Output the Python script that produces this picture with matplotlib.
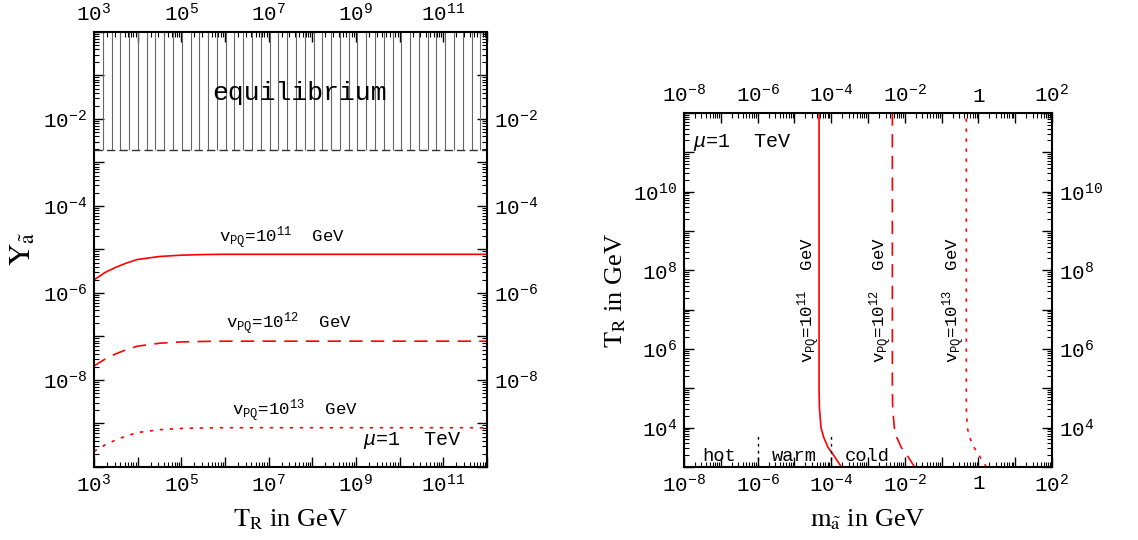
import numpy as np
import matplotlib
matplotlib.use("Agg")
import matplotlib.pyplot as plt
from matplotlib.ticker import LogLocator, FuncFormatter, NullFormatter

plt.rcParams['font.family'] = ['Liberation Mono', 'DejaVu Sans Mono']
plt.rcParams['mathtext.fontset'] = 'custom'
plt.rcParams['mathtext.rm'] = 'Liberation Mono'
plt.rcParams['mathtext.it'] = 'Liberation Mono:italic'
plt.rcParams['mathtext.fallback'] = 'stix'

# ---- left panel: yield vs reheat temperature ----
T_left = [1.0e3, 1.78e3, 3.16e3, 5.62e3, 1.0e4, 3.16e4, 1.0e5, 3.16e5, 1.0e6, 1.0e8, 1.0e10, 1.0e12]
Y_v11 = [2.0e-6, 2.95e-6, 3.9e-6, 4.9e-6, 5.9e-6, 6.9e-6, 7.4e-6, 7.65e-6, 7.75e-6, 7.75e-6, 7.75e-6, 7.75e-6]
Y_v12 = [2.1e-8, 3.0e-8, 4.0e-8, 5.0e-8, 6.0e-8, 7.0e-8, 7.5e-8, 7.7e-8, 7.8e-8, 7.8e-8, 7.8e-8, 7.8e-8]
Y_v13 = [2.3e-10, 3.2e-10, 4.2e-10, 5.2e-10, 6.2e-10, 7.2e-10, 7.7e-10, 7.9e-10, 8.0e-10, 8.0e-10, 8.0e-10, 8.0e-10]
Y_eq = 1.9e-3

# ---- right panel: reheat temperature vs axino mass ----
T_right = [1.0e3, 1.78e3, 3.16e3, 5.62e3, 1.0e4, 3.16e4, 1.0e5, 1.0e6, 1.0e12]
m_v11 = [1.9e-4, 1.27e-4, 8.2e-5, 6.3e-5, 5.3e-5, 4.8e-5, 4.7e-5, 4.7e-5, 4.7e-5]
m_v12 = [1.85e-2, 1.25e-2, 8.0e-3, 6.1e-3, 5.2e-3, 4.7e-3, 4.6e-3, 4.6e-3, 4.6e-3]
m_v13 = [1.65, 1.12, 0.76, 0.58, 0.50, 0.47, 0.47, 0.47, 0.47]
m_borders = [1e-6, 1e-4]
T_border_top = 7.5e3
regions = ['hot', 'warm', 'cold']
region_x = [9.3e-8, 1.02e-5, 9.8e-4]

# tick labels shown (exponents)
left_x_labels = [3, 5, 7, 9, 11]
left_y_labels = [-2, -4, -6, -8]
right_x_labels = [-8, -6, -4, -2, 0, 2]
right_y_labels = [4, 6, 8, 10]

RED = '#ff0000'
FS_TICK = 15
FS_TXT = 12.5
FS_LAB = 19


def fmt_factory(shown):
    def f(v, pos):
        e = int(round(np.log10(v)))
        if e not in shown:
            return ''
        if e == 0:
            return '1'
        return r'$10^{%d}$' % e
    return f


def style_axis(ax, xshown, yshown):
    ax.set_xscale('log')
    ax.set_yscale('log')
    for axis, shown in ((ax.xaxis, xshown), (ax.yaxis, yshown)):
        axis.set_major_locator(LogLocator(base=10, numticks=100))
        axis.set_minor_locator(LogLocator(base=10, subs=np.arange(2, 10), numticks=100))
        axis.set_major_formatter(FuncFormatter(fmt_factory(shown)))
        axis.set_minor_formatter(NullFormatter())
    ax.tick_params(which='both', direction='in', top=True, right=True,
                   labeltop=True, labelright=True, labelsize=FS_TICK, pad=5)
    ax.tick_params(which='major', length=7, width=1.0)
    ax.tick_params(which='minor', length=3.5, width=0.8)
    for s in ax.spines.values():
        s.set_linewidth(1.5)


fig = plt.figure(figsize=(11.38, 5.4), dpi=100)
ax1 = fig.add_axes([0.0826, 0.1352, 0.3453, 0.8056])
ax2 = fig.add_axes([0.601, 0.1352, 0.3234, 0.6556])

# left panel
style_axis(ax1, left_x_labels, left_y_labels)
ax1.set_xlim(1e3, 1e12)
ax1.set_ylim(1e-10, 1)
hatch_x = np.logspace(3.2, 11.85, 44)
ax1.vlines(hatch_x, Y_eq, 1, color='#666666', lw=0.8)
ax1.hlines(Y_eq, 1e3, 1e12, color='#333333', lw=1.0, linestyles=(0, (6, 3)))
ax1.plot(T_left, Y_v11, color=RED, lw=1.2)
ax1.plot(T_left, Y_v12, color=RED, lw=1.2, ls=(0, (8, 5)))
ax1.plot(T_left, Y_v13, color=RED, lw=1.2, ls=(0, (2, 4)))
ax1.text(5.0e7, 4.0e-2, 'equilibrium', fontsize=19, ha='center', va='center')
ax1.text(2.0e7, 1.38e-5, r'v$_{\rm PQ}$=10$^{11}$  GeV', fontsize=FS_TXT, ha='center', va='baseline')
ax1.text(3.0e7, 1.45e-7, r'v$_{\rm PQ}$=10$^{12}$  GeV', fontsize=FS_TXT, ha='center', va='baseline')
ax1.text(4.1e7, 1.45e-9, r'v$_{\rm PQ}$=10$^{13}$  GeV', fontsize=FS_TXT, ha='center', va='baseline')
ax1.text(1.95e10, 3.2e-10, r'$\mu$=1  TeV', fontsize=FS_TXT + 2, ha='center', va='baseline')
ax1.set_xlabel(r'$\mathrm{T_R}$ in GeV', fontsize=FS_LAB, family='Liberation Serif',
               math_fontfamily='stix', labelpad=8)
ax1.set_ylabel(r'$\mathrm{Y}_{\tilde{\mathrm{a}}}$', fontsize=FS_LAB + 3, family='Liberation Serif',
               math_fontfamily='stix', labelpad=4)

# right panel
style_axis(ax2, right_x_labels, right_y_labels)
ax2.set_xlim(1e-8, 1e2)
ax2.set_ylim(1e3, 1e12)
ax2.plot(m_v11, T_right, color=RED, lw=1.2)
ax2.plot(m_v12, T_right, color=RED, lw=1.2, ls=(0, (8, 5)))
ax2.plot(m_v13, T_right, color=RED, lw=1.2, ls=(0, (2, 4)))
for mb in m_borders:
    ax2.vlines(mb, 1e3, T_border_top, color='black', lw=1.0, linestyles=(0, (2, 3)))
for name, xr in zip(regions, region_x):
    ax2.text(xr, 1.45e3, name, fontsize=FS_TXT + 1, ha='center', va='baseline')
ax2.text(2.6e-5, 1.8e7, r'v$_{\rm PQ}$=10$^{11}$  GeV', fontsize=FS_TXT, rotation=90,
         ha='center', va='center')
ax2.text(2.3e-3, 1.8e7, r'v$_{\rm PQ}$=10$^{12}$  GeV', fontsize=FS_TXT, rotation=90,
         ha='center', va='center')
ax2.text(2.3e-1, 1.8e7, r'v$_{\rm PQ}$=10$^{13}$  GeV', fontsize=FS_TXT, rotation=90,
         ha='center', va='center')
ax2.text(1.75e-8, 1.35e11, r'$\mu$=1  TeV', fontsize=FS_TXT + 2, ha='left', va='baseline')
ax2.set_xlabel(r'$\mathrm{m}_{\tilde{\mathrm{a}}}$ in GeV', fontsize=FS_LAB, family='Liberation Serif',
               math_fontfamily='stix', labelpad=8)
ax2.set_ylabel(r'$\mathrm{T_R}$ in GeV', fontsize=FS_LAB, family='Liberation Serif',
               math_fontfamily='stix', labelpad=4)

fig.savefig('out.png', dpi=100)
